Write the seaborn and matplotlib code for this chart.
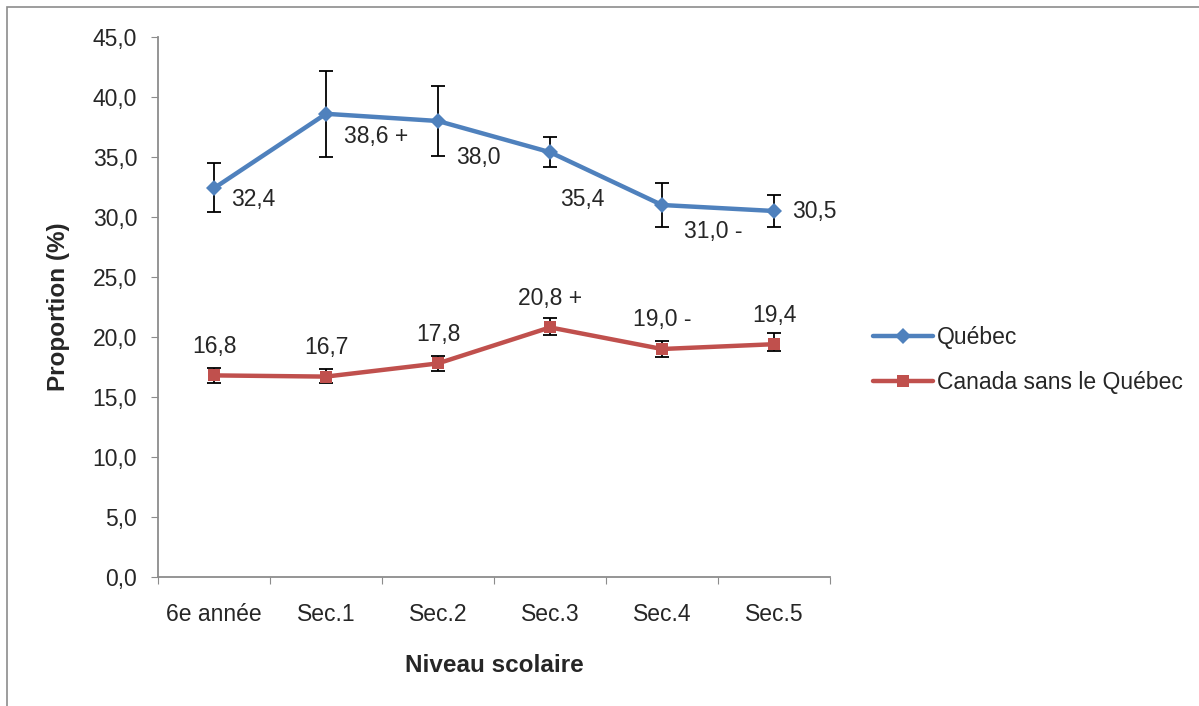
import numpy as np
import pandas as pd
import matplotlib
matplotlib.use("Agg")
import matplotlib.pyplot as plt
from matplotlib.patches import Rectangle
import seaborn as sns

# data
niveaux = ["6e année", "Sec.1", "Sec.2", "Sec.3", "Sec.4", "Sec.5"]
quebec = [32.4, 38.6, 38.0, 35.4, 31.0, 30.5]
quebec_low = [30.4, 35.0, 35.1, 34.2, 29.2, 29.2]
quebec_high = [34.5, 42.2, 40.9, 36.7, 32.8, 31.8]
canada = [16.8, 16.7, 17.8, 20.8, 19.0, 19.4]
canada_low = [16.2, 16.2, 17.2, 20.2, 18.3, 18.8]
canada_high = [17.4, 17.3, 18.4, 21.6, 19.7, 20.3]
quebec_labels = ["32,4", "38,6 +", "38,0", "35,4", "31,0 -", "30,5"]
canada_labels = ["16,8", "16,7", "17,8", "20,8 +", "19,0 -", "19,4"]
y_ticks = np.arange(0, 45.1, 5)

sns.set_style("ticks")
plt.rcParams["font.family"] = ["Liberation Sans", "DejaVu Sans"]

blue = "#4F81BD"
red = "#C0504D"
fs = 16.5

df = pd.DataFrame({
    "pos": list(range(len(niveaux))) * 2,
    "val": quebec + canada,
    "serie": ["Québec"] * 6 + ["Canada sans le Québec"] * 6,
})

W, H = 1199, 706
fig = plt.figure(figsize=(W / 100, H / 100), dpi=100)
ax = fig.add_axes([158 / W, (H - 577) / H, (830 - 158) / W, (577 - 37) / H])

# figure border
fig.patches.append(Rectangle((7 / W, -0.1), 1.2, 1.1 - 7 / H, transform=fig.transFigure,
                             fill=False, edgecolor="#8c8c8c", linewidth=1.2))

x = np.arange(len(niveaux))
for vals, lo, hi in [(quebec, quebec_low, quebec_high), (canada, canada_low, canada_high)]:
    vals = np.array(vals)
    err = [vals - np.array(lo), np.array(hi) - vals]
    ax.errorbar(x, vals, yerr=err, fmt="none", ecolor="black", elinewidth=1.3,
                capsize=5, capthick=1.3, zorder=3)

sns.lineplot(data=df, x="pos", y="val", hue="serie", style="serie",
             palette={"Québec": blue, "Canada sans le Québec": red},
             markers={"Québec": "D", "Canada sans le Québec": "s"},
             dashes=False, linewidth=3.2, markersize=8.5, markeredgewidth=0,
             ax=ax, zorder=4, legend=True)

# data labels
q_off = [(12, -8), (13, -16), (13, -26), (7, -34), (16, -19), (13, 0)]
for i, (lab, off) in enumerate(zip(quebec_labels, q_off)):
    ax.annotate(lab, (x[i], quebec[i]), xytext=off, textcoords="offset points",
                ha="left", va="center", fontsize=fs)
for i, lab in enumerate(canada_labels):
    ax.annotate(lab, (x[i], canada[i]), xytext=(0, 21), textcoords="offset points",
                ha="center", va="center", fontsize=fs)

ax.set_xlim(-0.5, 5.5)
ax.set_ylim(0, 45)
ax.set_yticks(y_ticks)
ax.set_yticklabels([f"{v:.1f}".replace(".", ",") for v in y_ticks], fontsize=fs)
ax.set_xticks(np.arange(-0.5, 5.6, 1))
ax.set_xticklabels([])
ax.set_xticks(x, minor=True)
ax.set_xticklabels(niveaux, minor=True, fontsize=fs)
ax.tick_params(axis="x", which="major", length=5, color="#8c8c8c", direction="out")
ax.tick_params(axis="x", which="minor", length=0, pad=19)
ax.tick_params(axis="y", length=5, color="#8c8c8c", direction="out", pad=10)

sns.despine(ax=ax)
for s in ["left", "bottom"]:
    ax.spines[s].set_color("#8c8c8c")
    ax.spines[s].set_linewidth(1.3)

ax.set_xlabel("Niveau scolaire", fontsize=17.5, fontweight="bold", labelpad=20)
ax.set_ylabel("Proportion (%)", fontsize=17.5, fontweight="bold", labelpad=16)

handles, labels = ax.get_legend_handles_labels()
ax.legend(handles, labels, loc="center left", bbox_to_anchor=(864 / W, 1 - 360 / H),
          bbox_transform=fig.transFigure, frameon=False, fontsize=fs,
          handlelength=2.6, handletextpad=0.2, labelspacing=1.0, borderaxespad=0)

fig.savefig("out.png", dpi=100, facecolor="white")
